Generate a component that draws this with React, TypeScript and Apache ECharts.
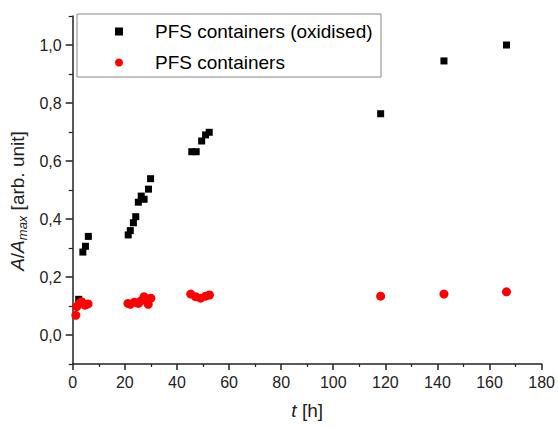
import React, { useEffect, useRef } from "react";
import * as echarts from "echarts";

const oxidised: [number, number][] = [
  [2.3, 0.123], [3.9, 0.286], [4.9, 0.306], [6.0, 0.34],
  [21.3, 0.345], [22.1, 0.36], [23.3, 0.387], [24.2, 0.408], [25.2, 0.458],
  [26.3, 0.479], [27.4, 0.468], [29.1, 0.503], [29.9, 0.539],
  [45.7, 0.632], [47.4, 0.632], [49.5, 0.669], [51.0, 0.69], [52.4, 0.699],
  [118.2, 0.763], [142.5, 0.945], [166.5, 1.0],
];

const plain: [number, number][] = [
  [1.2, 0.068], [1.6, 0.098], [2.5, 0.109], [3.4, 0.115], [4.7, 0.103], [5.9, 0.107],
  [21.2, 0.109], [22.1, 0.106], [23.7, 0.113], [25.2, 0.109], [26.2, 0.118],
  [27.4, 0.132], [29.0, 0.106], [30.0, 0.127],
  [45.3, 0.141], [47.2, 0.132], [49.1, 0.127], [51.0, 0.134], [52.5, 0.138],
  [118.2, 0.134], [142.5, 0.141], [166.5, 0.149],
];

const seriesNames = ["PFS containers (oxidised)", "PFS containers"];
const yMajorTicks = [0, 0.2, 0.4, 0.6, 0.8, 1.0];
const yMinorTicks = [-0.1, 0.1, 0.3, 0.5, 0.7, 0.9, 1.1];

const FONT = "Liberation Sans, Arial, sans-serif";
const AXIS = "#222";

export default function App() {
  const ref = useRef<HTMLDivElement>(null);
  useEffect(() => {
    if (!ref.current) return;
    const chart = echarts.init(ref.current, null, { renderer: "svg" });
    chart.setOption({
      animation: false,
      backgroundColor: "#fff",
      textStyle: { fontFamily: FONT },
      grid: { left: 72.7, right: 12.3, top: 16, bottom: 64, containLabel: false },
      legend: {
        orient: "vertical",
        left: 115,
        top: 22,
        padding: 0,
        itemWidth: 8,
        itemHeight: 8,
        itemGap: 12,
        data: seriesNames,
        textStyle: { fontSize: 19, color: "#000", fontFamily: FONT, padding: [0, 0, 0, 27] },
      },
      graphic: [
        {
          type: "rect",
          shape: { x: 77, y: 14, width: 304, height: 63 },
          style: { fill: "none", stroke: "#888", lineWidth: 1 },
          silent: true,
        },
      ],
      xAxis: {
        type: "value",
        min: 0,
        max: 180,
        interval: 20,
        name: "{i|t} [h]",
        nameLocation: "middle",
        nameGap: 37,
        nameTextStyle: {
          fontSize: 19,
          color: AXIS,
          fontFamily: FONT,
          rich: { i: { fontStyle: "italic", fontSize: 19, color: AXIS, fontFamily: FONT } },
        },
        axisLine: { show: true, onZero: false, lineStyle: { color: AXIS, width: 1.5 } },
        axisTick: { show: true, inside: false, length: 6, lineStyle: { color: AXIS, width: 1.5 } },
        minorTick: { show: true, splitNumber: 2, length: 3, lineStyle: { color: AXIS, width: 1.2 } },
        axisLabel: { fontSize: 16, color: AXIS, margin: 10, fontFamily: FONT },
        splitLine: { show: false },
      },
      yAxis: [
        {
          type: "value",
          min: -0.1,
          max: 1.1,
          name: "{i|A}/{i|A}{s|max} [arb. unit]",
          nameLocation: "middle",
          nameGap: 32,
          nameRotate: 90,
          nameTextStyle: {
            fontSize: 19,
            color: AXIS,
            fontFamily: FONT,
            padding: [0, 22, 0, 0],
            rich: {
              i: { fontStyle: "italic", fontSize: 19, color: AXIS, fontFamily: FONT },
              s: { fontStyle: "italic", fontSize: 13, color: AXIS, fontFamily: FONT, verticalAlign: "bottom", padding: [9, 0, 0, 0] },
            },
          },
          axisLine: { show: true, onZero: false, lineStyle: { color: AXIS, width: 1.5 } },
          axisTick: { show: true, inside: false, length: 7, customValues: yMajorTicks, lineStyle: { color: AXIS, width: 1.5 } },
          axisLabel: {
            fontSize: 16,
            color: AXIS,
            margin: 11,
            fontFamily: FONT,
            customValues: yMajorTicks,
            formatter: (v: number) => v.toFixed(1).replace(".", ","),
          },
          splitLine: { show: false },
        },
        {
          type: "value",
          min: -0.1,
          max: 1.1,
          position: "left",
          axisLine: { show: false },
          axisTick: { show: true, inside: false, length: 4, customValues: yMinorTicks, lineStyle: { color: AXIS, width: 1.2 } },
          axisLabel: { show: false },
          splitLine: { show: false },
        },
      ],
      series: [
        {
          name: seriesNames[0],
          type: "scatter",
          symbol: "rect",
          symbolSize: 7,
          itemStyle: { color: "#000", opacity: 1 },
          data: oxidised,
        },
        {
          name: seriesNames[1],
          type: "scatter",
          symbol: "circle",
          symbolSize: 9,
          itemStyle: { color: "#ff0000", opacity: 1 },
          data: plain,
        },
      ],
    });
    return () => chart.dispose();
  }, []);
  return <div ref={ref} style={{ position: "fixed", left: 0, top: 0, width: 558, height: 428 }} />;
}
